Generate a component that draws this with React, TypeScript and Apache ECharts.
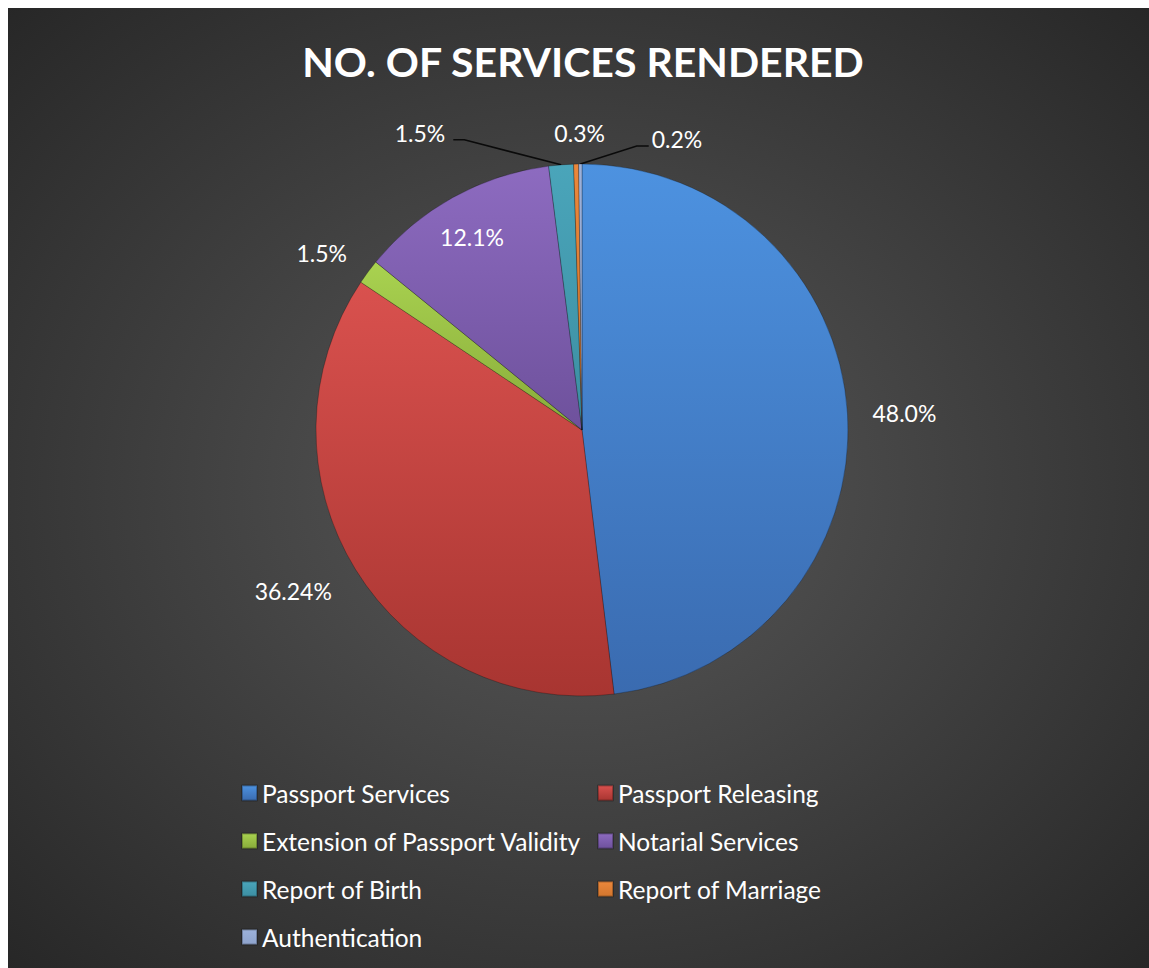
import { useEffect, useRef } from 'react';
import * as echarts from 'echarts';

// ---- data ----
const TITLE = 'NO. OF SERVICES RENDERED';
const CATEGORIES = [
  'Passport Services',
  'Passport Releasing',
  'Extension of Passport Validity',
  'Notarial Services',
  'Report of Birth',
  'Report of Marriage',
  'Authentication',
];
const SHARES = [48.0, 36.24, 1.5, 12.1, 1.5, 0.3, 0.2];
const LABEL_TEXTS = ['48.0%', '36.24%', '1.5%', '12.1%', '1.5%', '0.3%', '0.2%'];

// ---- styling ----
const SLICE_COLORS: string[][] = [
  ['#4d92e0', '#3a6bb0'],
  ['#d9514e', '#a83531'],
  ['#a9d250', '#88ab3a'],
  ['#8d6bc0', '#6e519c'],
  ['#4aa5ba', '#3c8ea2'],
  ['#ea873b', '#d2762e'],
  ['#9cb1da', '#8ea3cc'],
];
const LABEL_POS = ['outside', 'outside', 'outside', 'inside', 'outside', 'outside', 'outside'];
const LEADER = [false, false, false, false, true, false, true];
const LABEL_SHIFT: number[][] = [
  [0, 0],
  [0, 16],
  [2, -13],
  [-44, -74],
  [-100, -22],
  [44, -21],
  [137, -15],
];
const FONT = 'Lato, "Open Sans", sans-serif';

export default function App() {
  const ref = useRef<HTMLDivElement>(null);
  useEffect(() => {
    document.documentElement.style.overflow = 'hidden';
    document.body.style.overflow = 'hidden';
    const chart = echarts.init(ref.current!, null, { renderer: 'svg' });
    const grad = (a: string, b: string) =>
      new echarts.graphic.LinearGradient(0, 0, 0, 1, [
        { offset: 0, color: a },
        { offset: 1, color: b },
      ]);
    const data = CATEGORIES.map((name, i) => ({
      name,
      value: SHARES[i],
      itemStyle: { color: grad(SLICE_COLORS[i][0], SLICE_COLORS[i][1]) },
      label: { position: LABEL_POS[i] },
      labelLine: { show: LEADER[i] },
    }));
    chart.setOption({
      animation: false,
      backgroundColor: new echarts.graphic.RadialGradient(0.5, 0.5, 0.78, [
        { offset: 0, color: '#595959' },
        { offset: 1, color: '#222222' },
      ]),
      title: {
        text: TITLE,
        left: 575,
        top: 33,
        padding: 0,
        textAlign: 'center',
        textStyle: { color: '#ffffff', fontSize: 41, fontWeight: 'bold', fontFamily: FONT },
      },
      legend: {
        data: CATEGORIES,
        left: 233,
        top: 766,
        width: 720,
        padding: 0,
        itemGap: 10,
        itemWidth: 15,
        itemHeight: 15,
        icon: 'rect',
        selectedMode: false,
        textStyle: { color: '#ffffff', fontSize: 24.5, fontFamily: FONT, width: 325, lineHeight: 38 },
      },
      series: [
        {
          type: 'pie',
          center: [574, 422],
          radius: 266,
          startAngle: 90,
          clockwise: true,
          avoidLabelOverlap: false,
          data,
          itemStyle: { borderColor: 'rgba(0,0,0,0.25)', borderWidth: 1 },
          label: {
            show: true,
            color: '#ffffff',
            fontSize: 23,
            fontFamily: FONT,
            formatter: (p: any) => LABEL_TEXTS[p.dataIndex],
          },
          labelLine: { length: 10, length2: 10, lineStyle: { color: '#0a0a0a', width: 1.5 } },
          labelLayout: (params: any) => {
            const i = params.dataIndex;
            const [dx, dy] = LABEL_SHIFT[i];
            const res: any = { dx, dy };
            if (LEADER[i] && params.labelLinePoints) {
              const r = params.labelRect;
              const p0 = params.labelLinePoints[0];
              const ly = r.y + dy + r.height / 2 + 7;
              if (i === 4) {
                const x2 = r.x + dx + r.width + 8;
                res.labelLinePoints = [p0, [x2 + 11, ly], [x2, ly]];
              } else {
                const x2 = r.x + dx - 3;
                res.labelLinePoints = [p0, [x2 - 12, ly], [x2, ly]];
              }
            }
            return res;
          },
        },
      ],
    });
    return () => chart.dispose();
  }, []);
  return (
    <div
      ref={ref}
      style={{ width: 1141, height: 960, position: 'absolute', left: 8, top: 8 }}
    />
  );
}
